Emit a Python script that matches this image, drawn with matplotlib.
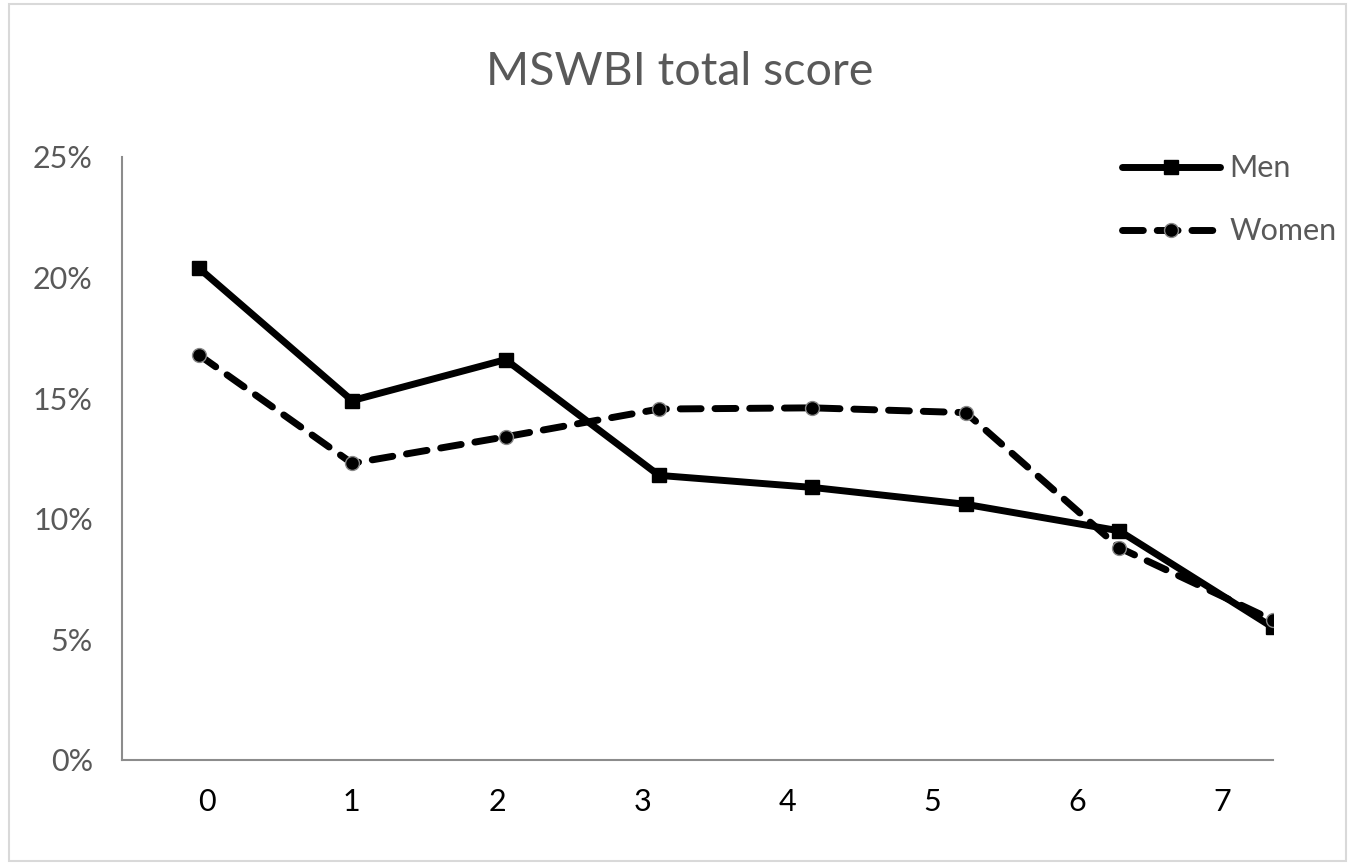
import matplotlib.pyplot as plt
from matplotlib.patches import Rectangle

scores = [0, 1, 2, 3, 4, 5, 6, 7]
men = [20.4, 14.9, 16.6, 11.8, 11.3, 10.6, 9.5, 5.5]
women = [16.8, 12.3, 13.4, 14.55, 14.6, 14.4, 8.8, 5.8]
tick_labels = ["0", "1", "2", "3", "4", "5", "6", "7"]

plt.rcParams['font.family'] = ['Lato', 'DejaVu Sans']
grey = "#595959"

fig = plt.figure(figsize=(13.54, 8.65), dpi=100)
ax = fig.add_axes([0.0901, 0.1214, 0.8499, 0.6971])

ax.plot(scores, men, color="black", lw=5, marker="s", ms=10,
        solid_capstyle="round", label="Men")
ax.plot(scores, women, color="black", lw=5, marker="o", ms=10,
        mec="#888888", mew=1, linestyle=(0, (3, 2)), dash_capstyle="round",
        label="Women")

ax.set_xlim(-0.5, 7.0)
ax.set_ylim(0, 25)
ax.set_yticks([0, 5, 10, 15, 20, 25])
ax.set_yticklabels([f"{v}%" for v in [0, 5, 10, 15, 20, 25]])
# tick labels sit a little apart from the points, as in the original picture
ax.set_xticks([0.052 + 0.946 * i for i in range(len(tick_labels))])
ax.set_xticklabels(tick_labels)
ax.tick_params(length=0, labelsize=22, colors=grey)
ax.tick_params(axis="x", colors="black", pad=20)
ax.tick_params(axis="y", pad=21)

for s in ["top", "right"]:
    ax.spines[s].set_visible(False)
for s in ["left", "bottom"]:
    ax.spines[s].set_color("#8c8c8c")
    ax.spines[s].set_linewidth(1.5)

fig.text(0.502, 0.917, "MSWBI total score", ha="center", va="center",
         fontsize=33.5, color=grey)

ax.legend(loc="upper right", bbox_to_anchor=(1.079, 1.05), frameon=False,
          fontsize=22, labelcolor=grey, handlelength=3.2, labelspacing=1.15,
          handletextpad=0.3)

fig.patches.append(Rectangle((0.007, 0.005), 0.987, 0.99, transform=fig.transFigure,
                             fill=False, edgecolor="#d9d9d9", lw=1.5))

fig.savefig("out.png", dpi=100)
